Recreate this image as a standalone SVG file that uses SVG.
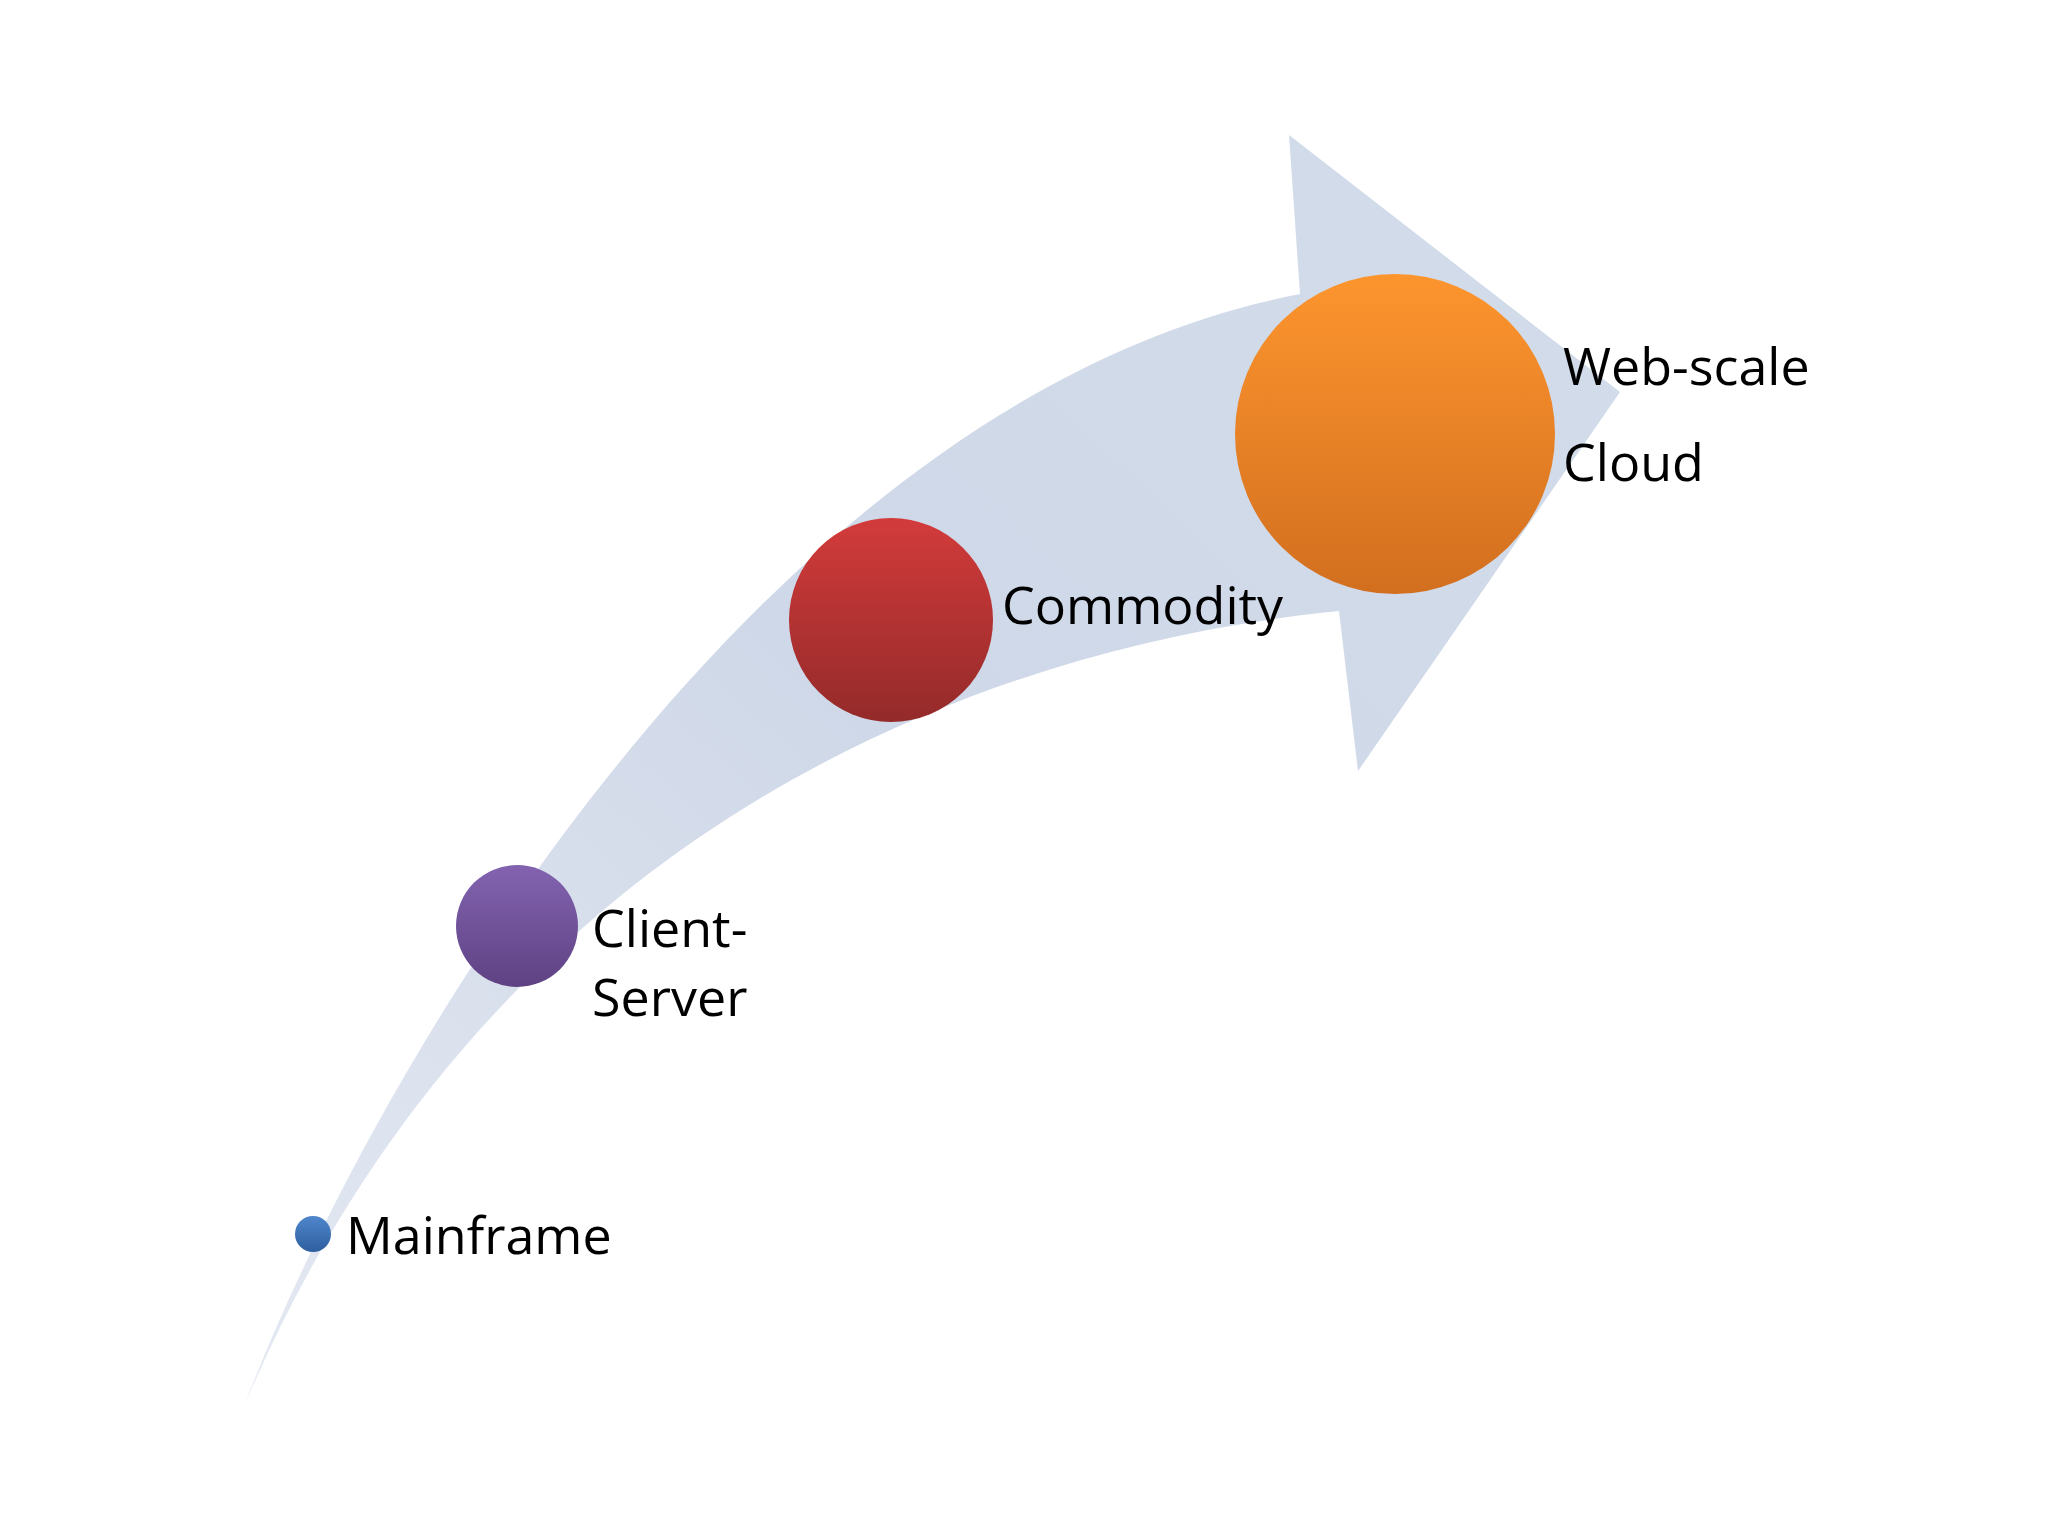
<svg xmlns="http://www.w3.org/2000/svg" width="2048" height="1536" viewBox="0 0 2048 1536">
<defs>
<linearGradient id="arr" x1="0" y1="1" x2="1" y2="0"><stop offset="0" stop-color="#e4e9f2"/><stop offset="0.5" stop-color="#cfd8e8"/><stop offset="1" stop-color="#d3dcea"/></linearGradient>
<linearGradient id="gb" x1="0" y1="0" x2="0" y2="1"><stop offset="0" stop-color="#4f86cc"/><stop offset="1" stop-color="#2e5f9f"/></linearGradient>
<linearGradient id="gp" x1="0" y1="0" x2="0" y2="1"><stop offset="0" stop-color="#8363b0"/><stop offset="1" stop-color="#5e4283"/></linearGradient>
<linearGradient id="gr" x1="0" y1="0" x2="0" y2="1"><stop offset="0" stop-color="#d33b3b"/><stop offset="1" stop-color="#942a2a"/></linearGradient>
<linearGradient id="go" x1="0" y1="0" x2="0" y2="1"><stop offset="0" stop-color="#fd952e"/><stop offset="1" stop-color="#d26f1f"/></linearGradient>
<style>text{font-family:"Open Sans","Noto Sans",sans-serif;font-size:52px;fill:#000}</style>
</defs>
<rect width="2048" height="1536" fill="#fff"/>
<g id="connectors">
<path d="M245,1404 C360,1100 750,400 1300,294 L1289,135 L1620,392 L1358,771 L1339,611 C950,650 480,850 245,1404 Z" fill="url(#arr)"/>
</g>
<g id="mainframe"><circle cx="313" cy="1234" r="18" fill="url(#gb)"/><text x="346" y="1254">Mainframe</text></g>
<g id="client-server"><circle cx="517" cy="926" r="61" fill="url(#gp)"/><text x="592" y="947">Client-</text><text x="592" y="1016">Server</text></g>
<g id="commodity"><circle cx="891" cy="620" r="102" fill="url(#gr)"/><text x="1002" y="624">Commodity</text></g>
<g id="cloud"><circle cx="1395" cy="434" r="160" fill="url(#go)"/><text x="1563" y="385">Web-scale</text><text x="1563" y="481">Cloud</text></g>
</svg>
